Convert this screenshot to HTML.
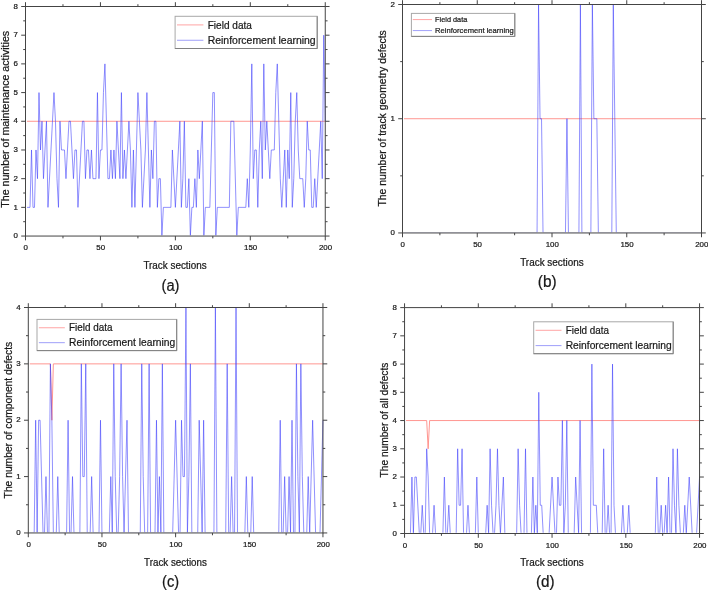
<!DOCTYPE html>
<html><head><meta charset="utf-8"><title>chart</title>
<style>html,body{margin:0;padding:0;background:#fff}svg{display:block}text{font-family:"Liberation Sans",sans-serif;fill:#181818;stroke:#181818;stroke-width:0.22px;filter:grayscale(1)}</style></head>
<body>
<svg width="708" height="591" viewBox="0 0 708 591">
<rect width="708" height="591" fill="#fff"/>
<g id="panel-a">
<clipPath id="cp-a"><rect x="25.5" y="4.5" width="301.75" height="230.75"/></clipPath>
<polyline points="27,121.28 325.25,121.28" fill="none" stroke="#ff8a84" stroke-width="0.9" stroke-linejoin="miter" stroke-miterlimit="3" clip-path="url(#cp-a)"/>
<polyline points="27,207.36 30,207.36 31.5,149.97 32.99,207.36 34.49,207.36 35.99,149.97 37.49,178.66 38.99,92.58 40.49,149.97 41.99,121.28 43.48,178.66 46.48,121.28 47.98,207.36 53.98,92.58 55.48,121.28 56.97,178.66 58.47,207.36 59.97,121.28 61.47,149.97 64.47,149.97 65.97,178.66 68.96,121.28 70.46,121.28 73.46,178.66 74.96,149.97 76.46,149.97 77.96,207.36 82.45,121.28 83.95,121.28 85.45,178.66 86.95,149.97 88.45,149.97 89.95,178.66 91.45,149.97 92.94,178.66 95.94,178.66 97.44,92.58 98.94,178.66 100.44,149.97 101.94,149.97 103.44,92.58 104.93,63.89 107.93,178.66 109.43,178.66 110.93,149.97 112.43,178.66 113.93,149.97 115.42,178.66 116.92,121.28 119.92,178.66 121.42,92.58 122.92,178.66 124.42,149.97 125.92,178.66 128.91,121.28 130.41,149.97 131.91,207.36 133.41,149.97 134.91,207.36 137.91,92.58 140.9,149.97 142.4,207.36 145.4,149.97 146.9,92.58 149.9,207.36 151.39,149.97 152.89,178.66 154.39,121.28 155.89,121.28 157.39,207.36 158.89,178.66 160.39,178.66 161.89,236.05 163.38,207.36 170.88,207.36 172.38,149.97 175.38,207.36 179.87,121.28 181.37,207.36 182.87,178.66 184.37,121.28 185.87,207.36 187.37,207.36 188.86,178.66 190.36,236.05 191.86,207.36 193.36,207.36 194.86,178.66 196.36,207.36 197.86,149.97 199.35,178.66 202.35,121.28 203.85,236.05 205.35,207.36 209.85,207.36 212.84,92.58 214.34,92.58 215.84,236.05 217.34,207.36 229.33,207.36 230.83,121.28 233.83,121.28 236.82,236.05 238.32,207.36 245.82,207.36 247.31,178.66 248.81,207.36 250.31,149.97 251.81,63.89 253.31,178.66 254.81,149.97 256.31,149.97 257.81,207.36 259.31,149.97 260.8,121.28 262.3,178.66 263.8,63.89 265.3,149.97 266.8,121.28 269.8,178.66 271.3,149.97 274.29,149.97 275.79,92.58 277.29,63.89 280.29,178.66 281.79,207.36 284.78,149.97 286.28,207.36 287.78,149.97 289.28,178.66 290.78,92.58 292.28,207.36 293.78,178.66 295.27,121.28 296.77,92.58 298.27,149.97 299.77,178.66 302.77,178.66 304.27,207.36 305.77,178.66 307.26,121.28 308.76,149.97 310.26,149.97 311.76,207.36 313.26,207.36 314.76,178.66 316.26,207.36 320.75,121.28 322.25,178.66 323.75,35.19 325.25,121.28" fill="none" stroke="#4040fb" stroke-width="0.58" stroke-linejoin="miter" stroke-miterlimit="3" clip-path="url(#cp-a)"/>
<rect x="25.5" y="6.5" width="299.75" height="229.55" fill="none" stroke="#444" stroke-width="1"/>
<path d="M25.5,236.05v4.3M25.5,6.5v-4.3M62.97,236.05v2.3M62.97,6.5v-2.3M100.44,236.05v4.3M100.44,6.5v-4.3M137.91,236.05v2.3M137.91,6.5v-2.3M175.38,236.05v4.3M175.38,6.5v-4.3M212.84,236.05v2.3M212.84,6.5v-2.3M250.31,236.05v4.3M250.31,6.5v-4.3M287.78,236.05v2.3M287.78,6.5v-2.3M325.25,236.05v4.3M325.25,6.5v-4.3M25.5,236.05h-4.3M325.25,236.05h4.3M25.5,221.7h-2.3M325.25,221.7h2.3M25.5,207.36h-4.3M325.25,207.36h4.3M25.5,193.01h-2.3M325.25,193.01h2.3M25.5,178.66h-4.3M325.25,178.66h4.3M25.5,164.32h-2.3M325.25,164.32h2.3M25.5,149.97h-4.3M325.25,149.97h4.3M25.5,135.62h-2.3M325.25,135.62h2.3M25.5,121.28h-4.3M325.25,121.28h4.3M25.5,106.93h-2.3M325.25,106.93h2.3M25.5,92.58h-4.3M325.25,92.58h4.3M25.5,78.23h-2.3M325.25,78.23h2.3M25.5,63.89h-4.3M325.25,63.89h4.3M25.5,49.54h-2.3M325.25,49.54h2.3M25.5,35.19h-4.3M325.25,35.19h4.3M25.5,20.85h-2.3M325.25,20.85h2.3M25.5,6.5h-4.3M325.25,6.5h4.3" stroke="#444" stroke-width="1" fill="none"/>
<text x="25.8" y="250.25" font-size="7.9" text-anchor="middle">0</text>
<text x="100.74" y="250.25" font-size="7.9" text-anchor="middle">50</text>
<text x="175.68" y="250.25" font-size="7.9" text-anchor="middle">100</text>
<text x="250.61" y="250.25" font-size="7.9" text-anchor="middle">150</text>
<text x="325.55" y="250.25" font-size="7.9" text-anchor="middle">200</text>
<text x="17.9" y="238.25" font-size="7.9" text-anchor="end">0</text>
<text x="17.9" y="209.56" font-size="7.9" text-anchor="end">1</text>
<text x="17.9" y="180.86" font-size="7.9" text-anchor="end">2</text>
<text x="17.9" y="152.17" font-size="7.9" text-anchor="end">3</text>
<text x="17.9" y="123.48" font-size="7.9" text-anchor="end">4</text>
<text x="17.9" y="94.78" font-size="7.9" text-anchor="end">5</text>
<text x="17.9" y="66.09" font-size="7.9" text-anchor="end">6</text>
<text x="17.9" y="37.39" font-size="7.9" text-anchor="end">7</text>
<text x="17.9" y="8.7" font-size="7.9" text-anchor="end">8</text>
<text x="143.4" y="269.3" font-size="10" stroke-width="0.32" textLength="63.3" lengthAdjust="spacingAndGlyphs">Track sections</text>
<text transform="translate(8.6,207.8) rotate(-90)" font-size="10" stroke-width="0.3" textLength="177" lengthAdjust="spacingAndGlyphs">The number of maintenance activities</text>
<text x="161.5" y="290.6" font-size="15.6" stroke-width="0.4" textLength="18" lengthAdjust="spacingAndGlyphs">(a)</text>
<rect x="175.1" y="16.3" width="142.1" height="32.2" fill="#fff" stroke="#a8a8a8" stroke-width="1"/>
<path d="M175.1,48.5H317.2V16.3" fill="none" stroke="#808080" stroke-width="1"/>
<path d="M177,24.9h26.4" stroke="#ffacac" stroke-width="1.1"/>
<path d="M177,40.29h26.4" stroke="#a8a8fa" stroke-width="1.1"/>
<text x="207.7" y="28.59" font-size="11.2" stroke-width="0.3" textLength="44.2" lengthAdjust="spacingAndGlyphs">Field data</text>
<text x="207.7" y="43.98" font-size="11.2" stroke-width="0.3" textLength="108" lengthAdjust="spacingAndGlyphs">Reinforcement learning</text>
</g>
<g id="panel-b">
<clipPath id="cp-b"><rect x="402.5" y="2.5" width="301" height="229.65"/></clipPath>
<polyline points="404,118.72 701.5,118.72" fill="none" stroke="#ff8a84" stroke-width="0.9" stroke-linejoin="miter" stroke-miterlimit="3" clip-path="url(#cp-b)"/>
<polyline points="404,232.95 537.05,232.95 538.55,4.5 540.04,118.72 541.53,118.72 543.03,232.95 565.46,232.95 566.95,118.72 568.45,232.95 578.91,232.95 580.4,4.5 581.9,232.95 590.87,232.95 592.37,4.5 593.86,118.72 596.85,118.72 598.35,232.95 611.8,232.95 613.3,4.5 616.29,232.95 701.5,232.95" fill="none" stroke="#4040fb" stroke-width="0.58" stroke-linejoin="miter" stroke-miterlimit="3" clip-path="url(#cp-b)"/>
<rect x="402.5" y="4.5" width="299" height="228.45" fill="none" stroke="#444" stroke-width="1"/>
<path d="M402.5,232.95v4.3M402.5,4.5v-4.3M439.88,232.95v2.3M439.88,4.5v-2.3M477.25,232.95v4.3M477.25,4.5v-4.3M514.62,232.95v2.3M514.62,4.5v-2.3M552,232.95v4.3M552,4.5v-4.3M589.38,232.95v2.3M589.38,4.5v-2.3M626.75,232.95v4.3M626.75,4.5v-4.3M664.12,232.95v2.3M664.12,4.5v-2.3M701.5,232.95v4.3M701.5,4.5v-4.3M402.5,232.95h-4.3M701.5,232.95h4.3M402.5,175.84h-2.3M701.5,175.84h2.3M402.5,118.72h-4.3M701.5,118.72h4.3M402.5,61.61h-2.3M701.5,61.61h2.3M402.5,4.5h-4.3M701.5,4.5h4.3" stroke="#444" stroke-width="1" fill="none"/>
<text x="402.8" y="247.15" font-size="7.9" text-anchor="middle">0</text>
<text x="477.55" y="247.15" font-size="7.9" text-anchor="middle">50</text>
<text x="552.3" y="247.15" font-size="7.9" text-anchor="middle">100</text>
<text x="627.05" y="247.15" font-size="7.9" text-anchor="middle">150</text>
<text x="701.8" y="247.15" font-size="7.9" text-anchor="middle">200</text>
<text x="394.9" y="235.15" font-size="7.9" text-anchor="end">0</text>
<text x="394.9" y="120.92" font-size="7.9" text-anchor="end">1</text>
<text x="394.9" y="6.7" font-size="7.9" text-anchor="end">2</text>
<text x="520.2" y="266" font-size="10" stroke-width="0.32" textLength="63.5" lengthAdjust="spacingAndGlyphs">Track sections</text>
<text transform="translate(385.8,206.6) rotate(-90)" font-size="10" stroke-width="0.3" textLength="176.4" lengthAdjust="spacingAndGlyphs">The number of track geometry defects</text>
<text x="537.8" y="286.6" font-size="15.6" stroke-width="0.4" textLength="18.8" lengthAdjust="spacingAndGlyphs">(b)</text>
<rect x="411.4" y="13.4" width="103.4" height="23" fill="#fff" stroke="#a8a8a8" stroke-width="1"/>
<path d="M411.4,36.4H514.8V13.4" fill="none" stroke="#808080" stroke-width="1"/>
<path d="M412.78,19.54h19.21" stroke="#ffacac" stroke-width="1.1"/>
<path d="M412.78,30.54h19.21" stroke="#a8a8fa" stroke-width="1.1"/>
<text x="435.12" y="22.15" font-size="7.9" stroke-width="0.3" textLength="32.16" lengthAdjust="spacingAndGlyphs">Field data</text>
<text x="435.12" y="33.14" font-size="7.9" stroke-width="0.3" textLength="78.59" lengthAdjust="spacingAndGlyphs">Reinforcement learning</text>
</g>
<g id="panel-c">
<clipPath id="cp-c"><rect x="28.3" y="305.5" width="296.65" height="226.65"/></clipPath>
<polyline points="29.77,363.86 50.4,363.86 51.87,420.23 53.35,363.86 322.95,363.86" fill="none" stroke="#ff8a84" stroke-width="0.9" stroke-linejoin="miter" stroke-miterlimit="3" clip-path="url(#cp-c)"/>
<polyline points="29.77,532.95 34.19,532.95 35.67,420.23 37.14,532.95 38.61,420.23 40.09,420.23 43.03,532.95 44.51,532.95 45.98,476.59 47.45,532.95 48.93,532.95 50.4,363.86 51.87,420.23 53.35,532.95 56.29,532.95 57.77,476.59 59.24,532.95 66.6,532.95 68.08,420.23 69.55,532.95 71.02,532.95 72.5,476.59 73.97,532.95 79.86,532.95 81.34,363.86 82.81,476.59 84.28,476.59 85.76,363.86 87.23,532.95 90.18,532.95 91.65,476.59 93.12,532.95 99.02,532.95 100.49,420.23 101.96,532.95 109.33,532.95 110.8,476.59 112.28,532.95 113.75,363.86 115.22,476.59 116.69,532.95 118.17,532.95 119.64,476.59 121.11,363.86 122.59,476.59 124.06,532.95 127.01,420.23 128.48,532.95 140.27,532.95 141.74,363.86 143.21,476.59 144.69,532.95 147.63,532.95 149.11,363.86 150.58,532.95 155,532.95 156.47,420.23 157.95,532.95 159.42,476.59 160.89,532.95 162.37,363.86 163.84,532.95 172.68,532.95 175.62,420.23 178.57,532.95 180.04,532.95 181.52,420.23 182.99,476.59 184.46,476.59 185.94,307.5 187.41,532.95 188.88,476.59 190.36,363.86 191.83,532.95 197.72,532.95 199.2,420.23 202.14,532.95 203.62,420.23 205.09,532.95 213.93,532.95 215.4,307.5 216.88,532.95 225.72,532.95 227.19,363.86 228.66,532.95 230.14,532.95 231.61,476.59 233.08,532.95 234.56,532.95 236.03,307.5 237.5,532.95 244.87,532.95 246.34,476.59 247.81,532.95 250.76,532.95 252.23,476.59 253.71,532.95 278.75,532.95 280.23,420.23 281.7,532.95 283.17,532.95 284.65,476.59 286.12,532.95 287.59,532.95 289.07,476.59 290.54,532.95 292.01,420.23 293.49,532.95 294.96,532.95 296.43,363.86 297.9,476.59 299.38,532.95 300.85,363.86 302.32,476.59 303.8,532.95 306.74,532.95 308.22,476.59 309.69,532.95 312.64,420.23 315.58,532.95 320,532.95 322.95,420.23" fill="none" stroke="#4040fb" stroke-width="0.58" stroke-linejoin="miter" stroke-miterlimit="3" clip-path="url(#cp-c)"/>
<rect x="28.3" y="307.5" width="294.65" height="225.45" fill="none" stroke="#444" stroke-width="1"/>
<path d="M28.3,532.95v4.3M28.3,307.5v-4.3M65.13,532.95v2.3M65.13,307.5v-2.3M101.96,532.95v4.3M101.96,307.5v-4.3M138.79,532.95v2.3M138.79,307.5v-2.3M175.62,532.95v4.3M175.62,307.5v-4.3M212.46,532.95v2.3M212.46,307.5v-2.3M249.29,532.95v4.3M249.29,307.5v-4.3M286.12,532.95v2.3M286.12,307.5v-2.3M322.95,532.95v4.3M322.95,307.5v-4.3M28.3,532.95h-4.3M322.95,532.95h4.3M28.3,504.77h-2.3M322.95,504.77h2.3M28.3,476.59h-4.3M322.95,476.59h4.3M28.3,448.41h-2.3M322.95,448.41h2.3M28.3,420.23h-4.3M322.95,420.23h4.3M28.3,392.04h-2.3M322.95,392.04h2.3M28.3,363.86h-4.3M322.95,363.86h4.3M28.3,335.68h-2.3M322.95,335.68h2.3M28.3,307.5h-4.3M322.95,307.5h4.3" stroke="#444" stroke-width="1" fill="none"/>
<text x="28.6" y="547.15" font-size="7.9" text-anchor="middle">0</text>
<text x="102.26" y="547.15" font-size="7.9" text-anchor="middle">50</text>
<text x="175.93" y="547.15" font-size="7.9" text-anchor="middle">100</text>
<text x="249.59" y="547.15" font-size="7.9" text-anchor="middle">150</text>
<text x="323.25" y="547.15" font-size="7.9" text-anchor="middle">200</text>
<text x="20.7" y="535.15" font-size="7.9" text-anchor="end">0</text>
<text x="20.7" y="478.79" font-size="7.9" text-anchor="end">1</text>
<text x="20.7" y="422.43" font-size="7.9" text-anchor="end">2</text>
<text x="20.7" y="366.06" font-size="7.9" text-anchor="end">3</text>
<text x="20.7" y="309.7" font-size="7.9" text-anchor="end">4</text>
<text x="144.1" y="565.7" font-size="10" stroke-width="0.32" textLength="62.8" lengthAdjust="spacingAndGlyphs">Track sections</text>
<text transform="translate(11.9,498.4) rotate(-90)" font-size="10" stroke-width="0.3" textLength="156.6" lengthAdjust="spacingAndGlyphs">The number of component defects</text>
<text x="162.1" y="587.2" font-size="15.6" stroke-width="0.4" textLength="17" lengthAdjust="spacingAndGlyphs">(c)</text>
<rect x="37" y="319.4" width="139.7" height="31.2" fill="#fff" stroke="#a8a8a8" stroke-width="1"/>
<path d="M37,350.6H176.7V319.4" fill="none" stroke="#808080" stroke-width="1"/>
<path d="M38.87,327.73h25.95" stroke="#ffacac" stroke-width="1.1"/>
<path d="M38.87,342.64h25.95" stroke="#a8a8fa" stroke-width="1.1"/>
<text x="69.05" y="331.43" font-size="11.2" stroke-width="0.3" textLength="43.45" lengthAdjust="spacingAndGlyphs">Field data</text>
<text x="69.05" y="346.34" font-size="11.2" stroke-width="0.3" textLength="106.18" lengthAdjust="spacingAndGlyphs">Reinforcement learning</text>
</g>
<g id="panel-d">
<clipPath id="cp-d"><rect x="404.55" y="305.6" width="297" height="227.1"/></clipPath>
<polyline points="406.03,420.55 426.68,420.55 428.15,448.79 429.62,420.55 699.55,420.55" fill="none" stroke="#ff8a84" stroke-width="0.9" stroke-linejoin="miter" stroke-miterlimit="3" clip-path="url(#cp-d)"/>
<polyline points="406.03,533.5 410.45,533.5 411.93,477.02 413.4,533.5 414.88,477.02 416.35,477.02 419.3,533.5 420.77,533.5 422.25,505.26 423.73,533.5 425.2,533.5 426.68,448.79 428.15,477.02 429.62,533.5 432.57,533.5 434.05,505.26 435.52,533.5 442.9,533.5 444.38,477.02 445.85,533.5 447.32,533.5 448.8,505.26 450.27,533.5 456.18,533.5 457.65,448.79 459.12,505.26 460.6,505.26 462.07,448.79 463.55,533.5 466.5,533.5 467.98,505.26 469.45,533.5 475.35,533.5 476.82,477.02 478.3,533.5 485.68,533.5 487.15,505.26 488.62,533.5 490.1,448.79 491.57,505.26 493.05,533.5 494.52,533.5 496,505.26 497.48,448.79 498.95,505.26 500.42,533.5 503.38,477.02 504.85,533.5 516.65,533.5 518.12,448.79 519.6,505.26 521.08,533.5 524.02,533.5 525.5,448.79 526.98,533.5 531.4,533.5 532.88,477.02 534.35,533.5 535.83,505.26 537.3,533.5 538.77,392.31 540.25,505.26 541.72,505.26 543.2,533.5 549.1,533.5 552.05,477.02 555,533.5 556.47,533.5 557.95,477.02 559.42,505.26 560.9,505.26 562.38,420.55 563.85,533.5 565.32,505.26 566.8,420.55 568.27,533.5 574.17,533.5 575.65,477.02 578.6,533.5 580.07,420.55 581.55,533.5 590.4,533.5 591.88,364.08 593.35,505.26 596.3,505.26 597.77,533.5 602.2,533.5 603.67,448.79 605.15,533.5 606.62,533.5 608.1,505.26 609.57,533.5 611.05,533.5 612.52,364.08 614,505.26 615.47,533.5 621.38,533.5 622.85,505.26 624.32,533.5 627.27,533.5 628.75,505.26 630.22,533.5 655.3,533.5 656.77,477.02 658.25,533.5 659.72,533.5 661.2,505.26 662.67,533.5 664.15,533.5 665.62,505.26 667.1,533.5 668.57,477.02 670.05,533.5 671.52,533.5 673,448.79 674.47,505.26 675.95,533.5 677.42,448.79 678.9,505.26 680.38,533.5 683.32,533.5 684.8,505.26 686.27,533.5 689.22,477.02 692.17,533.5 696.6,533.5 699.55,477.02" fill="none" stroke="#4040fb" stroke-width="0.58" stroke-linejoin="miter" stroke-miterlimit="3" clip-path="url(#cp-d)"/>
<rect x="404.55" y="307.6" width="295" height="225.9" fill="none" stroke="#444" stroke-width="1"/>
<path d="M404.55,533.5v4.3M404.55,307.6v-4.3M441.43,533.5v2.3M441.43,307.6v-2.3M478.3,533.5v4.3M478.3,307.6v-4.3M515.17,533.5v2.3M515.17,307.6v-2.3M552.05,533.5v4.3M552.05,307.6v-4.3M588.92,533.5v2.3M588.92,307.6v-2.3M625.8,533.5v4.3M625.8,307.6v-4.3M662.67,533.5v2.3M662.67,307.6v-2.3M699.55,533.5v4.3M699.55,307.6v-4.3M404.55,533.5h-4.3M699.55,533.5h4.3M404.55,519.38h-2.3M699.55,519.38h2.3M404.55,505.26h-4.3M699.55,505.26h4.3M404.55,491.14h-2.3M699.55,491.14h2.3M404.55,477.02h-4.3M699.55,477.02h4.3M404.55,462.91h-2.3M699.55,462.91h2.3M404.55,448.79h-4.3M699.55,448.79h4.3M404.55,434.67h-2.3M699.55,434.67h2.3M404.55,420.55h-4.3M699.55,420.55h4.3M404.55,406.43h-2.3M699.55,406.43h2.3M404.55,392.31h-4.3M699.55,392.31h4.3M404.55,378.19h-2.3M699.55,378.19h2.3M404.55,364.08h-4.3M699.55,364.08h4.3M404.55,349.96h-2.3M699.55,349.96h2.3M404.55,335.84h-4.3M699.55,335.84h4.3M404.55,321.72h-2.3M699.55,321.72h2.3M404.55,307.6h-4.3M699.55,307.6h4.3" stroke="#444" stroke-width="1" fill="none"/>
<text x="404.85" y="547.7" font-size="7.9" text-anchor="middle">0</text>
<text x="478.6" y="547.7" font-size="7.9" text-anchor="middle">50</text>
<text x="552.35" y="547.7" font-size="7.9" text-anchor="middle">100</text>
<text x="626.1" y="547.7" font-size="7.9" text-anchor="middle">150</text>
<text x="699.85" y="547.7" font-size="7.9" text-anchor="middle">200</text>
<text x="396.95" y="535.7" font-size="7.9" text-anchor="end">0</text>
<text x="396.95" y="507.46" font-size="7.9" text-anchor="end">1</text>
<text x="396.95" y="479.22" font-size="7.9" text-anchor="end">2</text>
<text x="396.95" y="450.99" font-size="7.9" text-anchor="end">3</text>
<text x="396.95" y="422.75" font-size="7.9" text-anchor="end">4</text>
<text x="396.95" y="394.51" font-size="7.9" text-anchor="end">5</text>
<text x="396.95" y="366.28" font-size="7.9" text-anchor="end">6</text>
<text x="396.95" y="338.04" font-size="7.9" text-anchor="end">7</text>
<text x="396.95" y="309.8" font-size="7.9" text-anchor="end">8</text>
<text x="520.2" y="566" font-size="10" stroke-width="0.32" textLength="63.5" lengthAdjust="spacingAndGlyphs">Track sections</text>
<text transform="translate(388.1,477.4) rotate(-90)" font-size="10" stroke-width="0.3" textLength="114.7" lengthAdjust="spacingAndGlyphs">The number of all defects</text>
<text x="536" y="586.6" font-size="15.6" stroke-width="0.4" textLength="18.7" lengthAdjust="spacingAndGlyphs">(d)</text>
<rect x="533.7" y="321.8" width="139.5" height="31.9" fill="#fff" stroke="#a8a8a8" stroke-width="1"/>
<path d="M533.7,353.7H673.2V321.8" fill="none" stroke="#808080" stroke-width="1"/>
<path d="M535.57,330.32h25.92" stroke="#ffacac" stroke-width="1.1"/>
<path d="M535.57,345.57h25.92" stroke="#a8a8fa" stroke-width="1.1"/>
<text x="565.7" y="334.01" font-size="11.2" stroke-width="0.3" textLength="43.39" lengthAdjust="spacingAndGlyphs">Field data</text>
<text x="565.7" y="349.26" font-size="11.2" stroke-width="0.3" textLength="106.02" lengthAdjust="spacingAndGlyphs">Reinforcement learning</text>
</g>
</svg>
</body></html>
